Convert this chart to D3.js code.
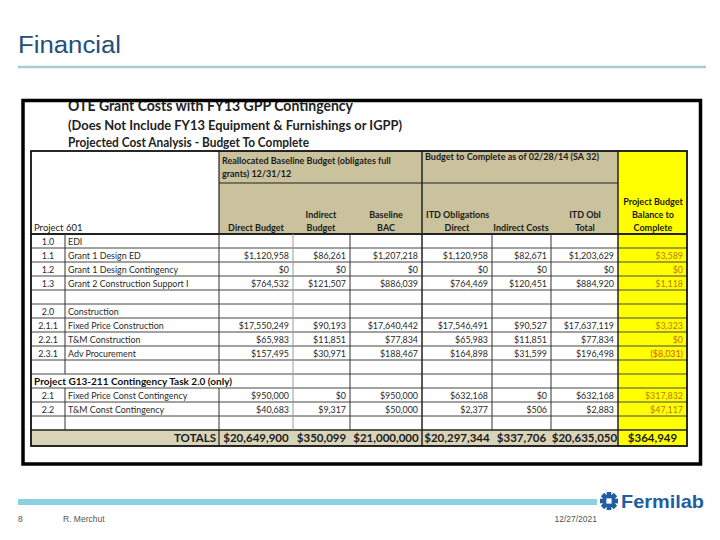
<!DOCTYPE html>
<html lang="en">
<head>
<meta charset="utf-8">
<style>
  body { margin: 0; background: white; }
  svg { font-family: Lato, 'Open Sans', sans-serif; }
  .hdr { font-size: 9px; font-weight: bold; fill: #1a1a1a; }
  .body { font-size: 8.9px; fill: #2a2a2a; }
  .foot { font-family: 'Liberation Sans', Arial, sans-serif; font-size: 8.5px; fill: #555; }
</style>
</head>
<body>
<svg width="720" height="540"></svg>
<script src="https://d3js.org/d3.v7.min.js"></script>
<script>
// ---- data ----
const codes = ["1.0", "1.1", "1.2", "1.3", "", "2.0", "2.1.1", "2.2.1", "2.3.1", "", "", "2.1", "2.2", ""]
const items = ["EDI", "Grant 1 Design ED", "Grant 1 Design Contingency", "Grant 2 Construction Support I", "",
  "Construction", "Fixed Price Construction", "T&M Construction", "Adv Procurement", "",
  "Project G13-211 Contingency Task 2.0 (only)", "Fixed Price Const Contingency", "T&M Const Contingency", ""]
const directBudget   = [null, 1120958, 0, 764532, null, null, 17550249, 65983, 157495, null, null, 950000, 40683, null]
const indirectBudget = [null, 86261, 0, 121507, null, null, 90193, 11851, 30971, null, null, 0, 9317, null]
const baselineBAC    = [null, 1207218, 0, 886039, null, null, 17640442, 77834, 188467, null, null, 950000, 50000, null]
const itdDirect      = [null, 1120958, 0, 764469, null, null, 17546491, 65983, 164898, null, null, 632168, 2377, null]
const itdIndirect    = [null, 82671, 0, 120451, null, null, 90527, 11851, 31599, null, null, 0, 506, null]
const itdTotal       = [null, 1203629, 0, 884920, null, null, 17637119, 77834, 196498, null, null, 632168, 2883, null]
const balance        = [null, 3589, 0, 1118, null, null, 3323, 0, -8031, null, null, 317832, 47117, null]
const totals = [20649900, 350099, 21000000, 20297344, 337706, 20635050, 364949]
const groupRows = [10]   // bold sub-project heading row

const titleLines = ["OTE Grant Costs with FY13 GPP Contingency",
  "(Does Not Include FY13 Equipment & Furnishings or IGPP)",
  "Projected Cost Analysis - Budget To Complete"]

const svg = d3.select("svg")
const fmt = d3.format("($,.0f")

// slide heading
svg.append("text").attr("x", 18).attr("y", 53)
  .style("font-family", "'Liberation Sans', Arial, sans-serif")
  .attr("textLength", 103).attr("lengthAdjust", "spacingAndGlyphs")
  .style("font-size", "23px").style("fill", "#22507a").text("Financial")
svg.append("line").attr("x1", 18).attr("x2", 706).attr("y1", 67).attr("y2", 67)
  .attr("stroke", "#a5cbd3").attr("stroke-width", 2.5)

// pasted table picture: title lines, then the black frame over them
const titleW = [285, 334, 241]
const titleY = [111, 130, 147]
const titleSize = [15, 13.5, 13.5]
titleLines.forEach((t, i) => {
  svg.append("text").attr("x", 68).attr("y", titleY[i])
    .attr("textLength", titleW[i]).attr("lengthAdjust", "spacingAndGlyphs")
    .style("font-size", titleSize[i] + "px").style("font-weight", "bold").style("fill", "#222")
    .text(t)
})

const edges = [31, 65, 219, 293, 350, 422, 492, 551, 618, 687]
const nRows = codes.length
const y = d3.scaleLinear().domain([0, nRows]).range([234, 430])
const tblTop = 151, midH = 183, totBot = 446
const g = svg.append("g")

// backgrounds
g.append("rect").attr("x", edges[2]).attr("y", tblTop).attr("width", edges[8] - edges[2]).attr("height", y(0) - tblTop).attr("fill", "#cac29c")
g.append("rect").attr("x", edges[0]).attr("y", y(nRows)).attr("width", edges[8] - edges[0]).attr("height", totBot - y(nRows)).attr("fill", "#d9d3b9")
g.append("rect").attr("x", edges[8]).attr("y", tblTop).attr("width", edges[9] - edges[8]).attr("height", totBot - tblTop).attr("fill", "#ffff00")

// header text
const hdr = (x, yy, t, anchor) => g.append("text").attr("class", "hdr").attr("x", x).attr("y", yy)
  .attr("text-anchor", anchor || "middle").text(t)
hdr(222, 164, "Reallocated Baseline Budget (obligates full", "start")
hdr(222, 177, "grants) 12/31/12", "start")
hdr(425, 160, "Budget to Complete as of 02/28/14 (SA 32)", "start")
hdr(34, 231, "Project 601", "start").style("font-size", "9.5px").style("font-weight", "normal")
hdr(256, 231, "Direct Budget")
hdr(321, 218, "Indirect"); hdr(321, 231, "Budget")
hdr(386, 218, "Baseline"); hdr(386, 231, "BAC")
hdr(426, 218, "ITD Obligations", "start"); hdr(457, 231, "Direct")
hdr(521, 231, "Indirect Costs")
hdr(585, 218, "ITD Obl"); hdr(585, 231, "Total")
hdr(653, 205, "Project Budget"); hdr(653, 218, "Balance to"); hdr(653, 231, "Complete")

// body rows
const series = [directBudget, indirectBudget, baselineBAC, itdDirect, itdIndirect, itdTotal, balance]
d3.range(nRows).forEach(i => {
  const by = y(i) + 10.5
  if (groupRows.includes(i)) {
    g.append("text").attr("class", "body").attr("x", 34).attr("y", by + 0.5)
      .attr("textLength", 198).attr("lengthAdjust", "spacingAndGlyphs")
      .style("font-weight", "bold").style("font-size", "9.8px").style("fill", "#111").text(items[i])
    return
  }
  g.append("text").attr("class", "body").attr("x", 48).attr("y", by).attr("text-anchor", "middle").text(codes[i])
  g.append("text").attr("class", "body").attr("x", 68).attr("y", by).text(items[i])
  series.forEach((s, j) => {
    if (s[i] === null) return
    g.append("text").attr("class", "body").attr("x", edges[j + 3] - 4).attr("y", by)
      .attr("text-anchor", "end")
      .style("fill", j === 6 ? (s[i] < 0 ? "#e0531a" : "#c07818") : null)
      .text(fmt(s[i]))
  })
})

// totals row
g.append("text").attr("x", edges[2] - 3).attr("y", totBot - 4).attr("text-anchor", "end")
  .style("font-size", "11.5px").style("font-weight", "bold").style("fill", "#1a1a1a").text("TOTALS")
totals.forEach((v, j) => {
  g.append("text").attr("x", j === 6 ? (edges[8] + edges[9]) / 2 : (edges[j + 2] + edges[j + 3]) / 2)
    .attr("y", totBot - 4).attr("text-anchor", "middle")
    .style("font-size", "11.5px").style("font-weight", "bold").style("fill", "#1a1a1a").text(fmt(v))
})

// grid lines
const ln = (x1, y1, x2, y2, w, c) => g.append("line").attr("x1", x1).attr("y1", y1).attr("x2", x2).attr("y2", y2)
  .attr("stroke", c || "#222").attr("stroke-width", w || 1)
d3.range(1, nRows + 1).forEach(i => ln(edges[0], y(i), edges[9], y(i), i === nRows ? 1.5 : 1, i === nRows ? "#222" : "#444"))
ln(edges[0], y(0), edges[9], y(0), 2)
ln(edges[2], midH, edges[8], midH, 1)
;[1, 2, 3, 4, 6, 7].forEach(k => {
  d3.range(nRows).forEach(i => {
    if (groupRows.includes(i) && k < 3) return
    ln(edges[k], y(i), edges[k], y(i + 1), 1, k === 3 ? "#9a9a9a" : "#333")
  })
})
ln(edges[2], tblTop, edges[2], y(0), 1.2)
ln(edges[2], y(nRows), edges[2], totBot, 1.2)
ln(edges[5], tblTop, edges[5], totBot, 1.5)
ln(edges[8], tblTop, edges[8], totBot, 1.5)
g.append("rect").attr("x", edges[0]).attr("y", tblTop).attr("width", edges[9] - edges[0]).attr("height", totBot - tblTop)
  .attr("fill", "none").attr("stroke", "#111").attr("stroke-width", 1.8)

// frame of the picture
svg.append("rect").attr("x", 23).attr("y", 100.5).attr("width", 677.5).attr("height", 363.5)
  .attr("fill", "none").attr("stroke", "#000").attr("stroke-width", 3.5)

// footer
svg.append("rect").attr("x", 18).attr("y", 499).attr("width", 579).attr("height", 6).attr("fill", "#8dd0e0")
svg.append("text").attr("class", "foot").attr("x", 18).attr("y", 522).text("8")
svg.append("text").attr("class", "foot").attr("x", 63).attr("y", 522).text("R. Merchut")
svg.append("text").attr("class", "foot").attr("x", 597).attr("y", 522).attr("text-anchor", "end").text("12/27/2021")

// Fermilab mark
const gear = svg.append("g").attr("transform", "translate(609,501)").attr("fill", "#1f5ea3")
d3.range(8).forEach(k => gear.append("rect").attr("x", -2.2).attr("y", -9).attr("width", 4.4).attr("height", 18)
  .attr("transform", `rotate(${k * 45})`))
gear.append("circle").attr("r", 6.5)
gear.append("rect").attr("x", -2.6).attr("y", -2.6).attr("width", 5.2).attr("height", 5.2).attr("fill", "white")
svg.append("text").attr("x", 621).attr("y", 508).style("font-family", "'Liberation Sans', Arial, sans-serif")
  .style("font-size", "19px").style("font-weight", "bold").style("fill", "#1f5ea3")
  .attr("textLength", 83).attr("lengthAdjust", "spacingAndGlyphs").text("Fermilab")
</script>
</body>
</html>
